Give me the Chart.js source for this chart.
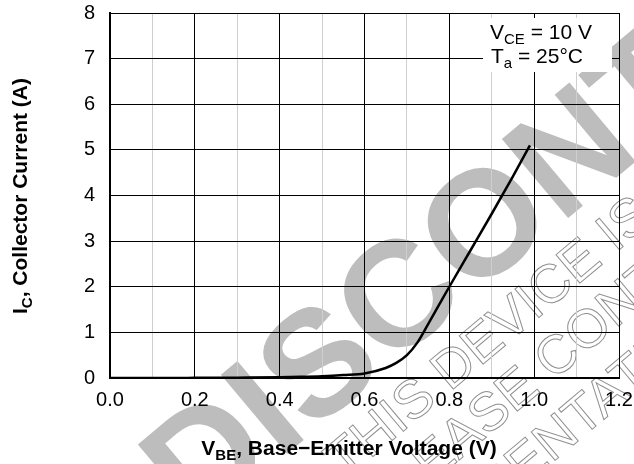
<!DOCTYPE html>
<html>
<head>
<meta charset="utf-8">
<script src="https://cdn.jsdelivr.net/npm/chart.js@4"></script>
<style>
  html, body { margin: 0; padding: 0; background: #fff; }
</style>
</head>
<body>
<canvas id="myChart" width="634" height="464"></canvas>
<script>
// V_BE (V) vs I_C (A)
const vbe = [0, 0.1, 0.2, 0.3, 0.4, 0.45, 0.5, 0.55, 0.6, 0.65, 0.675, 0.7, 0.725, 0.75, 0.775, 0.8, 0.85, 0.9, 0.95, 0.99];
const ic  = [0, 0, 0.003, 0.008, 0.015, 0.025, 0.04, 0.065, 0.1, 0.22, 0.33, 0.5, 0.78, 1.18, 1.59, 2.0, 2.8, 3.6, 4.42, 5.1];

const xLabels = ['0.0', '0.2', '0.4', '0.6', '0.8', '1.0', '1.2'];
const yLabels = ['0', '1', '2', '3', '4', '5', '6', '7', '8'];

const FONT = '"Liberation Sans", Arial, Helvetica, sans-serif';

// draw text pieces side by side (for subscripts)
function runsWidth(ctx, runs) {
    let w = 0;
    runs.forEach(r => {
        ctx.font = (r.bold ? 'bold ' : '') + r.size + 'px ' + FONT;
        w += ctx.measureText(r.text).width;
    });
    return w;
}
function drawRuns(ctx, runs, x, y) {
    ctx.textBaseline = 'alphabetic';
    ctx.textAlign = 'left';
    runs.forEach(r => {
        ctx.font = (r.bold ? 'bold ' : '') + r.size + 'px ' + FONT;
        ctx.fillText(r.text, x, y + (r.dy || 0));
        x += ctx.measureText(r.text).width;
    });
}

// text along a slanted baseline, with the start of `anchor` placed at (ax, ay)
function slantText(ctx, text, anchor, ax, ay, deg) {
    const off = ctx.measureText(text.slice(0, text.indexOf(anchor))).width;
    ctx.save();
    ctx.translate(ax, ay);
    ctx.rotate(deg * Math.PI / 180);
    ctx.strokeText(text, -off, 0);
    ctx.restore();
}

const watermark = {
    id: 'watermark',
    beforeDraw(chart) {
        const ctx = chart.ctx;
        ctx.save();
        ctx.fillStyle = '#fff';
        ctx.fillRect(0, 0, chart.width, chart.height);

        // big word
        const a = -40 * Math.PI / 180;
        ctx.font = 'bold 150px ' + FONT;
        ctx.fillStyle = '#bdbdbd';
        ctx.textBaseline = 'alphabetic';
        const along = ctx.measureText('DI').width + ctx.measureText('S').width / 2;
        const half = 54;
        const cx = 315, cy = 360;
        const ox = cx - along * Math.cos(a) - half * Math.sin(a);
        const oy = cy - along * Math.sin(a) + half * Math.cos(a);
        ctx.translate(ox, oy);
        ctx.rotate(a);
        ctx.fillText('DISCONTINUED', 0, 0);
        ctx.restore();

        // outlined small lines
        ctx.save();
        ctx.font = '54px ' + FONT;
        ctx.strokeStyle = '#8f8f8f';
        ctx.lineWidth = 1;
        const d = -40, r = d * Math.PI / 180;
        const ux = Math.cos(r), uy = Math.sin(r), nx = -Math.sin(r), ny = Math.cos(r);
        const p1 = [450, 392];
        slantText(ctx, 'THIS DEVICE IS DISCONTINUED.', 'DEVICE', p1[0], p1[1], d);
        slantText(ctx, 'PLEASE CONTACT YOUR', 'CONTACT', p1[0] + 86 * ux + 58 * nx, p1[1] + 86 * uy + 58 * ny, d);
        slantText(ctx, 'REPRESENTATIVE FOR', 'ATIVE', p1[0] + 104 * ux + 120 * nx, p1[1] + 104 * uy + 120 * ny, d);
        ctx.restore();
    }
};

const labels = {
    id: 'labels',
    afterDraw(chart) {
        const ctx = chart.ctx;
        const area = chart.chartArea;
        ctx.save();

        // condition box
        ctx.fillStyle = '#fff';
        ctx.fillRect(area.right - 136, area.top + 5, 129, 54);
        ctx.fillStyle = '#000';
        drawRuns(ctx, [
            { text: 'V', size: 21 },
            { text: 'CE', size: 15, dy: 5 },
            { text: ' = 10 V', size: 21 }
        ], area.right - 129, area.top + 26);
        drawRuns(ctx, [
            { text: 'T', size: 21 },
            { text: 'a', size: 15, dy: 5 },
            { text: ' = 25\u00B0C', size: 21 }
        ], area.right - 128, area.top + 50);

        // x axis title
        const xt = [
            { text: 'V', size: 21, bold: true },
            { text: 'BE', size: 15, bold: true, dy: 5 },
            { text: ', Base\u2212Emitter Voltage (V)', size: 21, bold: true }
        ];
        drawRuns(ctx, xt, 349 - runsWidth(ctx, xt) / 2, 455);

        // y axis title
        const yt = [
            { text: 'I', size: 21, bold: true },
            { text: 'C', size: 15, bold: true, dy: 5 },
            { text: ', Collector Current (A)', size: 21, bold: true }
        ];
        ctx.translate(27, 196);
        ctx.rotate(-Math.PI / 2);
        drawRuns(ctx, yt, -runsWidth(ctx, yt) / 2, 0);
        ctx.restore();
    }
};

const ctx = document.getElementById('myChart').getContext('2d');
const myChart = new Chart(ctx, {
    type: 'line',
    data: {
        datasets: [{
            data: vbe.map((v, i) => ({ x: v, y: ic[i] })),
            borderColor: '#000',
            borderWidth: 2.5,
            pointRadius: 0,
            fill: false,
            cubicInterpolationMode: 'monotone'
        }]
    },
    options: {
        responsive: false,
        animation: false,
        devicePixelRatio: 1,
        layout: { padding: { top: 13, right: 15, left: 0, bottom: 0 } },
        plugins: {
            legend: { display: false },
            tooltip: { enabled: false }
        },
        scales: {
            x: {
                type: 'linear',
                min: 0,
                max: 1.2,
                afterFit: s => {
                    s.height = 86;
                    s.paddingLeft = 0;
                    s.paddingRight = 0;
                },
                afterBuildTicks: s => {
                    s.ticks = [];
                    for (let i = 0; i <= 12; i++) s.ticks.push({ value: i / 10 });
                },
                ticks: {
                    autoSkip: false,
                    maxRotation: 0,
                    padding: 10,
                    color: '#000',
                    font: { family: FONT, size: 20 },
                    callback: (v, i) => (i % 2 === 0 ? xLabels[i / 2] : '')
                },
                grid: {
                    drawTicks: false,
                    lineWidth: 1,
                    color: c => (c.index % 2 === 0 ? '#000' : '#cfcfcf')
                },
                border: { color: '#000', width: 2 }
            },
            y: {
                min: 0,
                max: 8,
                afterFit: s => {
                    s.width = 110;
                    s.paddingTop = 0;
                    s.paddingBottom = 0;
                },
                ticks: {
                    stepSize: 1,
                    padding: 15,
                    color: '#000',
                    font: { family: FONT, size: 20 },
                    callback: (v, i) => yLabels[i]
                },
                grid: { drawTicks: false, lineWidth: 1, color: '#000' },
                border: { color: '#000', width: 2 }
            }
        }
    },
    plugins: [watermark, labels]
});
</script>
</body>
</html>
